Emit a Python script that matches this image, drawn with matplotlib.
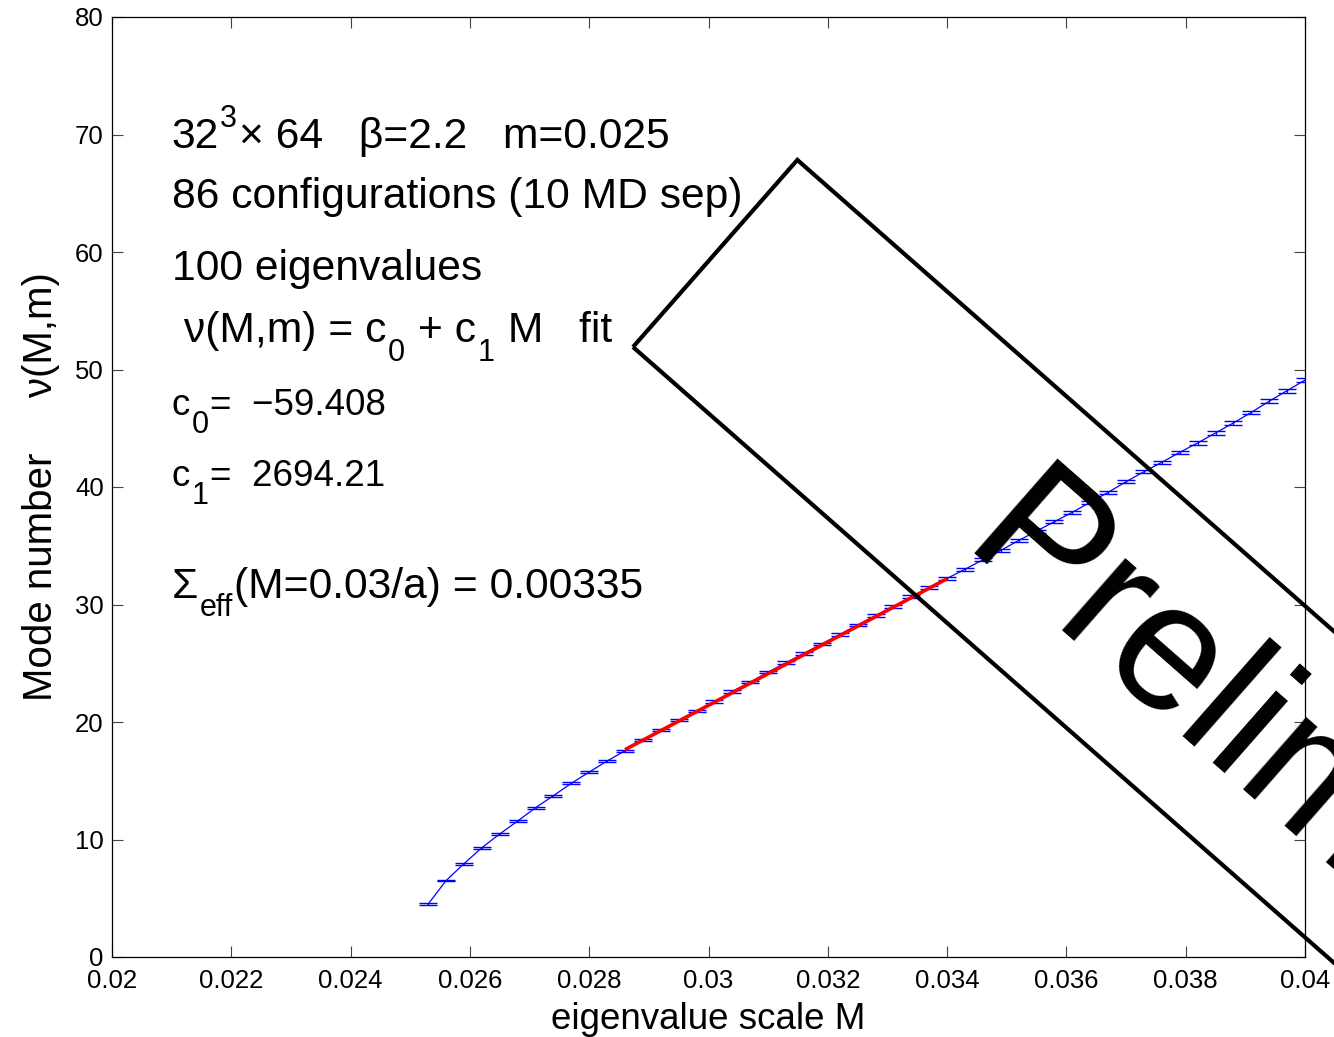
import numpy as np
import matplotlib
matplotlib.use("Agg")
import matplotlib.pyplot as plt
from matplotlib.patches import Rectangle
from matplotlib.transforms import IdentityTransform, offset_copy

plt.rcParams['font.family'] = ['Liberation Sans', 'DejaVu Sans']

# Mode number nu(M, m) measured on the eigenvalue-scale grid
M_vals = [0.0253, 0.0256, 0.0259, 0.0262, 0.0265, 0.0268, 0.0271, 0.0274, 0.0277, 0.0280,
          0.0283, 0.0286, 0.0289, 0.0292, 0.0295, 0.0298, 0.0301, 0.0304, 0.0307, 0.0310,
          0.0313, 0.0316, 0.0319, 0.0322, 0.0325, 0.0328, 0.0331, 0.0334, 0.0337, 0.0340,
          0.0343, 0.0346, 0.0349, 0.0352, 0.0355, 0.0358, 0.0361, 0.0364, 0.0367, 0.0370,
          0.0373, 0.0376, 0.0379, 0.0382, 0.0385, 0.0388, 0.0391, 0.0394, 0.0397, 0.0400]
nu_vals = [4.50, 6.50, 7.94, 9.30, 10.47, 11.57, 12.70, 13.73, 14.78, 15.74,
           16.68, 17.55, 18.45, 19.30, 20.15, 20.95, 21.75, 22.60, 23.40, 24.25,
           25.05, 25.85, 26.65, 27.45, 28.25, 29.05, 29.85, 30.65, 31.45, 32.22,
           33.00, 33.80, 34.60, 35.45, 36.25, 37.05, 37.85, 38.70, 39.55, 40.45,
           41.30, 42.10, 42.95, 43.75, 44.60, 45.45, 46.35, 47.30, 48.20, 49.10]
nu_err = [0.07, 0.07, 0.07, 0.08, 0.08, 0.08, 0.08, 0.08, 0.09, 0.09,
          0.09, 0.09, 0.09, 0.10, 0.10, 0.10, 0.10, 0.10, 0.11, 0.11,
          0.11, 0.11, 0.11, 0.12, 0.12, 0.12, 0.12, 0.12, 0.12, 0.13,
          0.13, 0.13, 0.13, 0.13, 0.13, 0.14, 0.14, 0.14, 0.14, 0.14,
          0.14, 0.15, 0.15, 0.15, 0.15, 0.15, 0.15, 0.15, 0.16, 0.16]

# Linear fit nu = c0 + c1 M over the fit window
c0 = -59.408
c1 = 2694.21
fit_range = [0.0286, 0.0340]

x_ticks = [0.02, 0.022, 0.024, 0.026, 0.028, 0.03, 0.032, 0.034, 0.036, 0.038, 0.04]
x_tick_labels = ['0.02', '0.022', '0.024', '0.026', '0.028', '0.03', '0.032',
                 '0.034', '0.036', '0.038', '0.04']
y_ticks = [0, 10, 20, 30, 40, 50, 60, 70, 80]

fig = plt.figure(figsize=(13.34, 10.37), dpi=100)
ax = fig.add_axes([112 / 1334, 80 / 1037, 1193 / 1334, 940 / 1037])

ax.errorbar(M_vals, nu_vals, yerr=nu_err, color='#0000ff', lw=0.9,
            elinewidth=0.9, capsize=6.5, capthick=1.0, zorder=2)

fit_M = np.linspace(fit_range[0], fit_range[1], 2)
ax.plot(fit_M, c0 + c1 * fit_M, color='#ff0000', lw=2.6, zorder=3,
        solid_capstyle='butt')

ax.set_xlim(0.02, 0.04)
ax.set_ylim(0, 80)
ax.set_xticks(x_ticks)
ax.set_xticklabels(x_tick_labels)
ax.set_yticks(y_ticks)
ax.tick_params(direction='in', length=8.2, width=0.8, color='#444444',
               labelsize=18.5, top=True, right=True)
ax.tick_params(axis='x', pad=9)
ax.tick_params(axis='y', pad=6)
for sp in ax.spines.values():
    sp.set_linewidth(0.9)

ax.set_xlabel('eigenvalue scale M', fontsize=26.5, labelpad=6)
ax.set_ylabel('Mode number     \u03bd(M,m)', fontsize=29, labelpad=11)

# Run parameters and fit results, with sub/superscripts set as separate pieces
fs = 30.7      # header lines
fc = 26.5      # coefficient lines
ss = 22
sub_dy = -13
sup_dy = 15
renderer = fig.canvas.get_renderer()


def rich_text(x, y, pieces, gap=1.0):
    cur = 0.0
    for s, size, dy in pieces:
        tr = offset_copy(ax.transData, fig=fig, x=cur, y=dy, units='points')
        t = ax.text(x, y, s, fontsize=size, va='baseline', ha='left', transform=tr)
        cur += t.get_window_extent(renderer=renderer).width * 72 / fig.dpi + gap


tx = 0.021
rich_text(tx, 68.85, [('32', fs, 0), ('3', ss, sup_dy),
                      ('\u00d7 64   \u03b2=2.2   m=0.025', fs, 0)])
rich_text(tx, 63.74, [('86 configurations (10 MD sep)', fs, 0)])
rich_text(tx, 57.6, [('100 eigenvalues', fs, 0)])
rich_text(tx, 52.3, [(' \u03bd(M,m) = c', fs, 0), ('0', ss, sub_dy), (' + c', fs, 0),
                     ('1', ss, sub_dy), (' M   fit', fs, 0)])
rich_text(tx, 46.1, [('c', fc, 0), ('0', ss, sub_dy), ('=  \u221259.408', fc, 0)])
rich_text(tx, 40.1, [('c', fc, 0), ('1', ss, sub_dy), ('=  2694.21', fc, 0)])
rich_text(tx, 30.55, [('\u03a3', fs, 0), ('eff', ss, sub_dy),
                      ('(M=0.03/a) = 0.00335', fs, 0)])

# "Preliminary" stamp, drawn in figure pixels
ang = -41.3
corner = (633, 690)
stamp = Rectangle(corner, 1200, 249, angle=ang, fill=False, lw=3.0,
                  edgecolor='black', transform=IdentityTransform(), zorder=10)
fig.add_artist(stamp)
u = np.array([np.cos(np.radians(ang)), np.sin(np.radians(ang))])
n = np.array([-u[1], u[0]])
anchor = np.array(corner) + 380 * u + 60 * n
fig.text(anchor[0], anchor[1], 'Preliminary', transform=IdentityTransform(),
         rotation=ang, rotation_mode='anchor', ha='left', va='baseline',
         fontsize=130, zorder=11)

fig.savefig('out.png', dpi=100)
